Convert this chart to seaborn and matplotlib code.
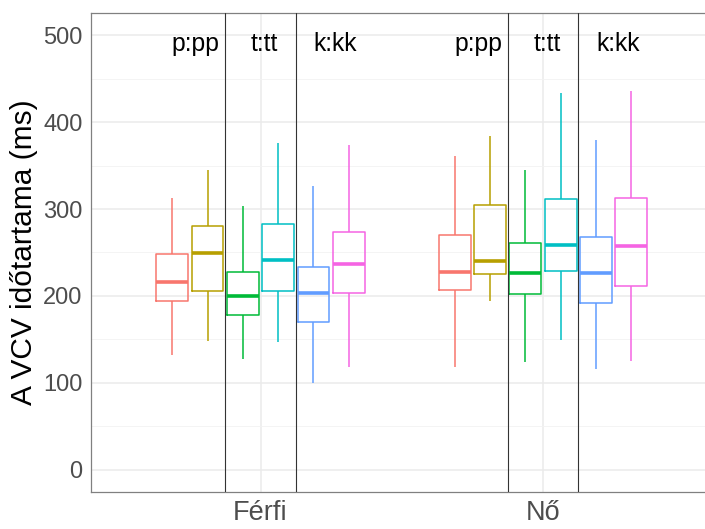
import numpy as np
import pandas as pd
import matplotlib
matplotlib.use("Agg")
import matplotlib.pyplot as plt
import seaborn as sns

# Groups and consonant pairs
sexes = ["Férfi", "Nő"]
consonants = ["p", "pp", "t", "tt", "k", "kk"]
pair_labels = ["p:pp", "t:tt", "k:kk"]

# Five-number summaries (ms), ordered Férfi p..kk, then Nő p..kk
lower_whisker = [132, 148, 128, 147, 100, 118, 118, 194, 124, 149, 116, 125]
first_quartile = [194, 206, 178, 206, 170, 204, 207, 225, 202, 229, 192, 212]
medians = [216, 249, 200, 241, 204, 237, 228, 240, 226, 259, 227, 257]
third_quartile = [248, 281, 228, 283, 233, 274, 270, 305, 261, 312, 268, 313]
upper_whisker = [313, 345, 304, 376, 327, 374, 361, 384, 345, 433, 379, 436]

palette = ["#F8766D", "#B79F00", "#00BA38", "#00BFC4", "#619CFF", "#F564E3"]

rows = []
i = 0
for s in sexes:
    for c in consonants:
        for v in (lower_whisker[i], first_quartile[i], medians[i],
                  third_quartile[i], upper_whisker[i]):
            rows.append({"sex": s, "cons": c, "dur": v})
        i += 1
df = pd.DataFrame(rows)

sns.set_style("white")
plt.rcParams["font.family"] = ["Liberation Sans", "DejaVu Sans"]

W, H = 705, 529
fig = plt.figure(figsize=(W / 100, H / 100), dpi=100)
left, right, top, bottom = 91, 712.5, 13.3, 491.7
ax = fig.add_axes([left / W, 1 - bottom / H, (right - left) / W, (bottom - top) / H])

sns.boxplot(
    data=df, x="sex", y="dur", hue="cons", order=sexes, hue_order=consonants,
    palette=palette, fill=False, width=0.75, gap=0.1, whis=(0, 100),
    showcaps=False, showfliers=False, linewidth=1.1,
    medianprops={"linewidth": 2.6}, legend=False, ax=ax,
)

ax.set_xlim(-0.6, 1.6)
ax.set_ylim(-25, 525)

# grid
ax.set_yticks([0, 100, 200, 300, 400, 500])
ax.set_yticks([50, 150, 250, 350, 450], minor=True)
ax.set_axisbelow(True)
ax.grid(True, which="major", axis="both", color="#EBEBEB", linewidth=1.1)
ax.grid(True, which="minor", axis="y", color="#F2F2F2", linewidth=0.6)

# separators between consonant pairs
for g in range(len(sexes)):
    for off in (-0.125, 0.125):
        ax.axvline(g + off, color="#333333", linewidth=0.8, zorder=3)

# pair labels
for g in range(len(sexes)):
    for off, lab in zip((-0.23, 0.015, 0.265), pair_labels):
        ax.text(g + off, 490, lab, ha="center", va="center",
                fontsize=17.8, color="black", zorder=4)

for sp in ax.spines.values():
    sp.set_visible(True)
    sp.set_color("#808080")
    sp.set_linewidth(0.9)

ax.tick_params(axis="both", which="major", length=4, width=0.8, color="#808080",
               labelcolor="#4D4D4D", pad=2)
ax.tick_params(axis="both", which="minor", length=0)
ax.tick_params(axis="y", labelsize=17)
ax.tick_params(axis="x", labelsize=19.5)
ax.set_xlabel("")
ax.set_ylabel("A VCV időtartama (ms)", fontsize=21.5, color="black", labelpad=4)

fig.savefig("out.png", dpi=100)
